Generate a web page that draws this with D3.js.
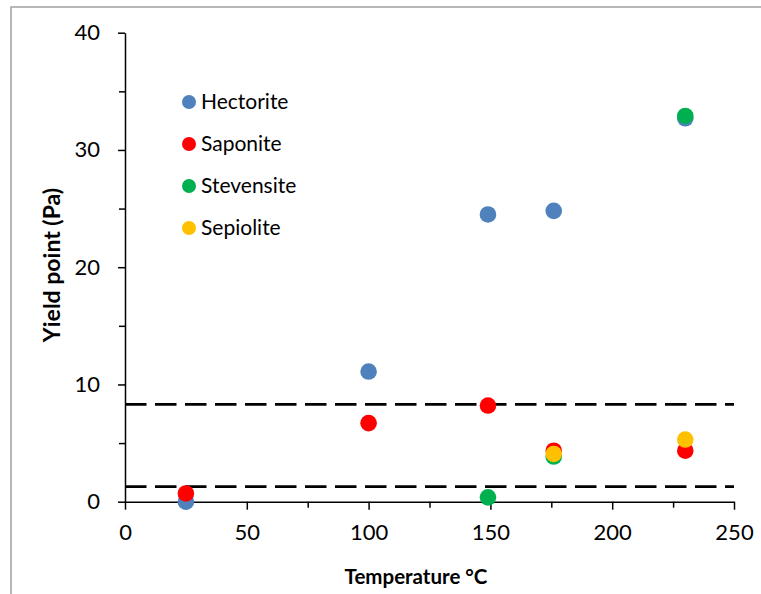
<!DOCTYPE html>
<html><head><meta charset="utf-8">
<script src="https://cdn.jsdelivr.net/npm/d3@7"></script>
<style>body{margin:0;background:#fff}svg{display:block}text{font-family:Lato,"Open Sans",sans-serif;fill:#000}</style>
</head><body>
<script>
const xTicks = [0, 50, 100, 150, 200, 250];
const yTicks = [0, 10, 20, 30, 40];
const seriesNames = ["Hectorite", "Saponite", "Stevensite", "Sepiolite"];
const seriesColors = ["#4F81BD", "#FF0000", "#00B050", "#FFC000"];
const hectorite = [[25, 0.0], [100, 11.1], [149, 24.5], [176, 24.8], [230, 32.7]];
const saponite = [[25, 0.7], [100, 6.7], [149, 8.2], [176, 4.35], [230, 4.35]];
const stevensite = [[149, 0.37], [176, 3.85], [230, 32.9]];
const sepiolite = [[176, 4.07], [230, 5.3]];
const thresholds = [8.3, 1.28];

const W = 761, H = 594;
const svg = d3.select("body").append("svg").attr("width", W).attr("height", H);
svg.append("rect").attr("x", 11).attr("y", 7).attr("width", W).attr("height", H)
  .attr("fill", "#fff").attr("stroke", "#a0a0a0").attr("stroke-width", 1.5);

const x = d3.scaleLinear().domain([0, 250]).range([125, 734]);
const y = d3.scaleLinear().domain([0, 40]).range([501.7, 32.7]);

// dashed lines
svg.selectAll("line.thr").data(thresholds).join("line")
  .attr("x1", x(0)).attr("x2", x(250)).attr("y1", d => y(d)).attr("y2", d => y(d))
  .attr("stroke", "#000").attr("stroke-width", 2.8).attr("stroke-dasharray", "21.5,8.5");

// axes
const xAxis = svg.append("g").attr("transform", `translate(0,${y(0)})`)
  .call(d3.axisBottom(x).tickValues(xTicks).tickSize(8).tickPadding(15).tickSizeOuter(0));
const xMinor = svg.append("g").attr("transform", `translate(0,${y(0)})`)
  .call(d3.axisBottom(x).tickValues([25, 75, 125, 175, 225]).tickSize(6).tickFormat("").tickSizeOuter(0));
xMinor.select(".domain").remove();
const yAxis = svg.append("g").attr("transform", `translate(${x(0)},0)`)
  .call(d3.axisLeft(y).tickValues(yTicks).tickSize(7).tickPadding(18).tickSizeOuter(0));
const yMinor = svg.append("g").attr("transform", `translate(${x(0)},0)`)
  .call(d3.axisLeft(y).tickValues([5, 15, 25, 35]).tickSize(6).tickFormat("").tickSizeOuter(0));
yMinor.select(".domain").remove();
svg.selectAll(".domain").attr("stroke", "#000").attr("stroke-width", 1.5);
svg.selectAll(".tick line").attr("stroke", "#000").attr("stroke-width", 1.5);
svg.selectAll(".tick text").style("font-size", "22px").style("font-family", "Lato,'Open Sans',sans-serif").attr("fill", "#000");

// points
const allSeries = [hectorite, saponite, stevensite, sepiolite];
allSeries.forEach((s, i) => {
  svg.append("g").selectAll("circle").data(s).join("circle")
    .attr("cx", d => x(d[0])).attr("cy", d => y(d[1])).attr("r", 8.3)
    .attr("fill", seriesColors[i]);
});

// legend
seriesNames.forEach((n, i) => {
  const ly = 102 + i * 42;
  svg.append("circle").attr("cx", 189).attr("cy", ly).attr("r", 7).attr("fill", seriesColors[i]);
  svg.append("text").attr("x", 201).attr("y", ly + 7).style("font-size", "21px").text(n);
});

// titles
svg.append("text").attr("x", 416).attr("y", 584).attr("text-anchor", "middle")
  .style("font-size", "20.5px").style("font-weight", "bold").text("Temperature °C");
svg.append("text").attr("transform", "translate(60,265) rotate(-90)").attr("text-anchor", "middle")
  .style("font-size", "23px").style("font-weight", "bold").text("Yield point (Pa)");
</script>
</body></html>
